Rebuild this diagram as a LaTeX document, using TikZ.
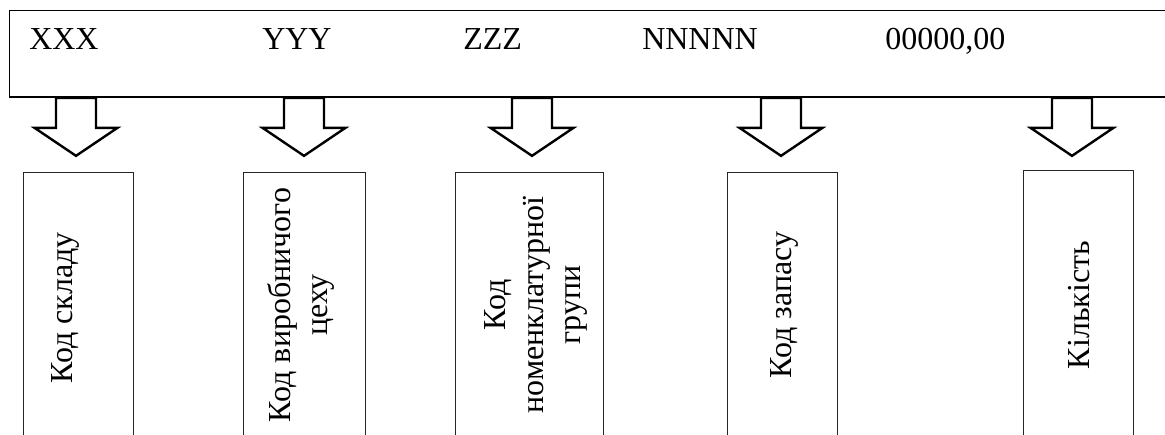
\documentclass[tikz,border=0pt]{standalone}
\usepackage{fontspec}
\setmainfont{Liberation Serif}
\begin{document}
\begin{tikzpicture}[x=0.75pt,y=-0.75pt,
  fieldbox/.style={draw=black!85, line width=0.9pt, inner sep=0pt, anchor=north west, minimum height=300*0.75pt},
  recordbox/.style={draw=black, line width=1pt, inner sep=0pt, anchor=north west},
  codetext/.style={font=\fontsize{24}{24}\selectfont, anchor=base west, inner sep=0pt},
  fieldtext/.style={font=\fontsize{24}{28}\selectfont, rotate=90, align=center, inner sep=0pt},
  arrowline/.style={draw=black, line width=1.8pt, line join=miter, fill=white},
  blockarrow/.pic={\draw[arrowline] (-20,0) -- (-20,30) -- (-41.5,30) -- (0,58) -- (41.5,30) -- (20,30) -- (20,0) -- cycle;}
]
\useasboundingbox (0,0) rectangle (1165,435);
\clip (0,0) rectangle (1165,435);
% record line
\node[recordbox, minimum width=1180*0.75pt, minimum height=86.5*0.75pt] (record) at (9,10) {};
\node[codetext] (cx) at (29,50) {XXX};
\node[codetext] (cy) at (262,50) {YYY};
\node[codetext] (cz) at (463,50) {ZZZ};
\node[codetext] (cn) at (642,50) {NNNNN};
\node[codetext] (cq) at (885,50) {00000,00};
% field boxes
\node[fieldbox, minimum width=110*0.75pt] (f1) at (23,172) {};
\node[fieldbox, minimum width=122*0.75pt] (f2) at (243,172) {};
\node[fieldbox, minimum width=148*0.75pt] (f3) at (455,172) {};
\node[fieldbox, minimum width=110*0.75pt] (f4) at (727,172) {};
\node[fieldbox, minimum width=110*0.75pt] (f5) at (1023,170) {};
% arrows
\pic (a1) at (76,0 |- record.south) {blockarrow};
\pic (a2) at (304,0 |- record.south) {blockarrow};
\pic (a3) at (532,0 |- record.south) {blockarrow};
\pic (a4) at (781,0 |- record.south) {blockarrow};
\pic (a5) at (1072,0 |- record.south) {blockarrow};
% field texts
\node[fieldtext] (t1) at (65,308) {Код складу};
\node[fieldtext] (t2) at (301,305) {Код виробничого\\цеху};
\node[fieldtext] (t3) at (536,305) {Код\\номенклатурної\\групи};
\node[fieldtext] (t4) at (784.5,305) {Код запасу};
\node[fieldtext] (t5) at (1079.5,305) {Кількість};
\end{tikzpicture}
\end{document}
